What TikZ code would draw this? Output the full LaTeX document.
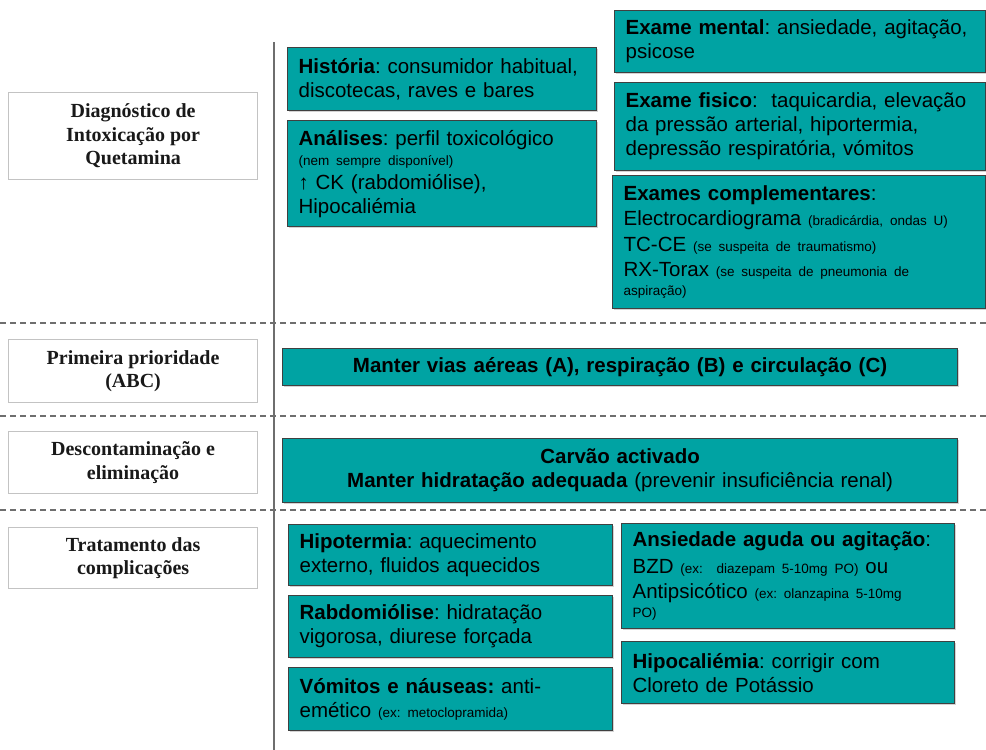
\documentclass[tikz,border=0pt]{standalone}
\usepackage{fontspec}
\setmainfont{Liberation Sans}
\newfontfamily\stagefont{Liberation Serif}
\usetikzlibrary{shadows}

\definecolor{boxteal}{RGB}{0,163,163}
\definecolor{framegray}{RGB}{195,195,195}
\definecolor{rulegray}{RGB}{110,110,110}

\newcommand{\smalltxt}[1]{{\fontsize{13.5}{15}\selectfont #1}}

\tikzset{
	stage/.style = {draw = framegray, fill = white, line width = 1.2pt, align = center, anchor = north west, inner sep = 0pt, minimum width = 249pt, font = \stagefont\bfseries\fontsize{20}{23.5}\selectfont, text = black!90},
	item/.style 2 args = {draw = black!75, fill = boxteal, line width = 1.2pt, align = left, anchor = north west, inner xsep = 11pt, inner ysep = 3pt, text width = #1, minimum height = #2, font = \fontsize{20.5}{24}\selectfont, drop shadow = {shadow xshift = 1.2pt, shadow yshift = -1.2pt, opacity = 0.35}},
	wide/.style = {align = center}
}

\begin{document}
\frenchspacing
\begin{tikzpicture}[x = 1pt, y = -1pt]
	\useasboundingbox (0, 0) rectangle (986, 750);
	
	\draw[rulegray, line width = 1.3pt] (274, 42) -- (274, 750);
	\foreach \y in {323, 416, 510}
	\draw[rulegray, line width = 1.3pt, dash pattern = on 6pt off 4pt] (0, \y) -- (986, \y);
	
	\node[stage, minimum height = 87pt] (diag) at (8, 92) {Diagnóstico de\\ Intoxicação por\\ Quetamina};
	\node[stage, minimum height = 63pt] (prim) at (8, 339) {Primeira prioridade\\ (ABC)};
	\node[stage, minimum height = 62pt] (desc) at (8, 431) {Descontaminação e\\ eliminação};
	\node[stage, minimum height = 61pt] (trat) at (8, 527) {Tratamento das\\ complicações};
	
	\node[item = {287pt}{63pt}] (hist) at (287, 47) {\textbf{História}: consumidor habitual,\\ discotecas, raves e bares};
	\node[item = {287pt}{106pt}] (anal) at (287, 120) {\textbf{Análises}: perfil toxicológico\\[-4pt] \smalltxt{(nem sempre disponível)}\\ ↑ CK (rabdomiólise),\\ Hipocaliémia};
	
	\node[item = {349pt}{62pt}] (mental) at (614, 10) {\textbf{Exame mental}: ansiedade, agitação,\\ psicose};
	\node[item = {349pt}{88pt}] (fisico) at (614, 82) {\textbf{Exame fisico}:\ \ taquicardia, elevação\\ da pressão arterial, hiportermia,\\ depressão respiratória, vómitos};
	\node[item = {351pt}{133pt}] (compl) at (612, 175) {\textbf{Exames complementares}:\\[1pt] Electrocardiograma \smalltxt{(bradicárdia, ondas U)}\\[2pt] TC-CE \smalltxt{(se suspeita de traumatismo)}\\[1pt] RX-Torax \smalltxt{(se suspeita de pneumonia de}\\[-5pt] \smalltxt{aspiração)}};
	
	\node[item = {653pt}{37pt}, wide] (abc) at (282, 348) {\textbf{Manter vias aéreas (A), respiração (B) e circulação (C)}};
	\node[item = {653pt}{64pt}, wide] (carvao) at (282, 438) {\textbf{Carvão activado}\\ \textbf{Manter hidratação adequada} (prevenir insuficiência renal)};
	
	\node[item = {302pt}{61pt}] (hipot) at (288, 524) {\textbf{Hipotermia}: aquecimento\\ externo, fluidos aquecidos};
	\node[item = {302pt}{62pt}] (rabdo) at (288, 595) {\textbf{Rabdomiólise}: hidratação\\ vigorosa, diurese forçada};
	\node[item = {302pt}{63pt}] (vomit) at (288, 667) {\textbf{Vómitos e náuseas:} anti-\\ emético \smalltxt{(ex: metoclopramida)}};
	
	\node[item = {311pt}{105pt}] (ansied) at (621, 523) {\textbf{Ansiedade aguda ou agitação}:\\[3pt] BZD \smalltxt{(ex:\ \ diazepam 5-10mg PO)} ou\\[1pt] Antipsicótico \smalltxt{(ex: olanzapina 5-10mg}\\[-5pt] \smalltxt{PO)}};
	\node[item = {311pt}{62pt}] (hipok) at (621, 641) {\textbf{Hipocaliémia}: corrigir com\\ Cloreto de Potássio};
\end{tikzpicture}
\end{document}
